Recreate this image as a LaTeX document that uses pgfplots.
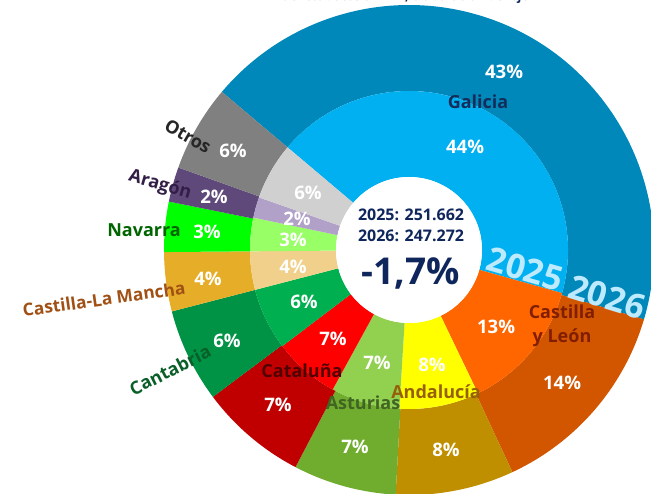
\documentclass[border=0pt]{standalone}
\usepackage{pgfplots}
\pgfplotsset{compat=1.18}
\usepackage{pgfplotstable}
\usepackage{fontspec}
\setmainfont{Open Sans}

% inner ring = 2025, outer ring = 2026
\definecolor{in0}{RGB}{0,176,240}
\definecolor{in1}{RGB}{255,102,0}
\definecolor{in2}{RGB}{255,255,0}
\definecolor{in3}{RGB}{146,208,80}
\definecolor{in4}{RGB}{255,0,0}
\definecolor{in5}{RGB}{0,176,80}
\definecolor{in6}{RGB}{240,208,138}
\definecolor{in7}{RGB}{153,255,102}
\definecolor{in8}{RGB}{177,160,199}
\definecolor{in9}{RGB}{208,208,208}
\definecolor{out0}{RGB}{0,136,186}
\definecolor{out1}{RGB}{210,85,0}
\definecolor{out2}{RGB}{191,143,0}
\definecolor{out3}{RGB}{112,173,47}
\definecolor{out4}{RGB}{192,0,0}
\definecolor{out5}{RGB}{0,146,69}
\definecolor{out6}{RGB}{230,174,40}
\definecolor{out7}{RGB}{0,255,0}
\definecolor{out8}{RGB}{95,73,122}
\definecolor{out9}{RGB}{128,128,128}
\definecolor{navy}{RGB}{15,38,92}
\definecolor{lblue}{RGB}{190,234,255}

\pgfplotstableread{
region    v25  v26
Galicia   43.2 43.4
CyL       13.5 13.5
Andalucia  8.1  7.8
Asturias   7.0  6.8
Cataluna   6.7  7.1
Cantabria  6.3  6.2
CLM        3.9  3.9
Navarra    3.4  3.3
Aragon     2.1  2.3
Otros      5.8  5.7
}\shares

\def\startang{139.8}
\newcommand\ringangles[2]{%
  \def\cum{0}%
  \pgfplotsforeachungrouped \i in {0,...,9}{%
    \pgfplotstablegetelem{\i}{#1}\of\shares
    \pgfmathsetmacro\a{\startang-3.6*\cum}%
    \pgfmathsetmacro\cum{\cum+\pgfplotsretval}%
    \pgfmathsetmacro\b{\startang-3.6*\cum}%
    \expandafter\xdef\csname #2s\i\endcsname{\a}%
    \expandafter\xdef\csname #2e\i\endcsname{\b}%
  }%
}

\begin{document}
\ringangles{v25}{in}%
\ringangles{v26}{out}%
\begin{tikzpicture}
\begin{axis}[name=ax,x=0.5pt,y=0.5pt,scale only axis,disabledatascaling,hide axis,
  xmin=-409,xmax=242,ymin=-243,ymax=250,clip=true]
  \pgfplotsinvokeforeach{0,...,9}{
    \fill[out#1,shift={(axis cs:0,0)}] (\csname outs#1\endcsname:159)
      arc[start angle=\csname outs#1\endcsname,end angle=\csname oute#1\endcsname,radius=159]
      -- (\csname oute#1\endcsname:245)
      arc[start angle=\csname oute#1\endcsname,end angle=\csname outs#1\endcsname,radius=245] -- cycle;
    \fill[in#1,shift={(axis cs:0,0)}] (\csname ins#1\endcsname:73)
      arc[start angle=\csname ins#1\endcsname,end angle=\csname ine#1\endcsname,radius=73]
      -- (\csname ine#1\endcsname:159)
      arc[start angle=\csname ine#1\endcsname,end angle=\csname ins#1\endcsname,radius=159] -- cycle;
  }
  \fill[white] (axis cs:0,0) circle[radius=73];

  \begin{scope}[font=\bfseries\fontsize{9.3}{9.3}\selectfont,text=white]
    \node at (axis cs:95,178) {43\%};
    \node at (axis cs:153,-133) {14\%};
    \node at (axis cs:37,-200) {8\%};
    \node at (axis cs:-54,-197) {7\%};
    \node at (axis cs:-131,-155) {7\%};
    \node at (axis cs:-182,-91) {6\%};
    \node at (axis cs:-201,-29) {4\%};
    \node at (axis cs:-202,18) {3\%};
    \node at (axis cs:-195,53) {2\%};
    \node at (axis cs:-176,99) {6\%};
    \node at (axis cs:56,103) {44\%};
    \node at (axis cs:87,-77) {13\%};
    \node at (axis cs:23,-115) {8\%};
    \node at (axis cs:-32,-113) {7\%};
    \node at (axis cs:-76,-89) {7\%};
    \node at (axis cs:-105,-52) {6\%};
    \node at (axis cs:-116,-17) {4\%};
    \node at (axis cs:-116,10) {3\%};
    \node at (axis cs:-112,31) {2\%};
    \node at (axis cs:-101,57) {6\%};
  \end{scope}

  \begin{scope}[font=\bfseries\fontsize{9}{12}\selectfont]
    \node[text={rgb,255:red,20;green,45;blue,90}] at (axis cs:69,148) {Galicia};
    \node[text={rgb,255:red,130;green,30;blue,0},align=center] at (axis cs:153,-76) {Castilla\\y León};
    \node[text={rgb,255:red,150;green,95;blue,10}] at (axis cs:27,-142) {Andalucía};
    \node[text={rgb,255:red,65;green,100;blue,35}] at (axis cs:-46,-153) {Asturias};
    \node[text={rgb,255:red,80;green,0;blue,0}] at (axis cs:-107,-121) {Cataluña};
    \node[text={rgb,255:red,10;green,95;blue,40},rotate=27] at (axis cs:-239,-120) {Cantabria};
    \node[text={rgb,255:red,160;green,80;blue,20},rotate=8,font=\bfseries\fontsize{8.7}{12}\selectfont] at (axis cs:-305,-49) {Castilla-La Mancha};
    \node[text={rgb,255:red,0;green,100;blue,0}] at (axis cs:-265,20) {Navarra};
    \node[text={rgb,255:red,50;green,30;blue,70},rotate=-16] at (axis cs:-249,65) {Aragón};
    \node[text={rgb,255:red,38;green,38;blue,38},rotate=-30] at (axis cs:-221,114) {Otros};
  \end{scope}

  \node[text=navy,font=\bfseries\fontsize{8}{8}\selectfont] at (axis cs:2,35) {2025: 251.662};
  \node[text=navy,font=\bfseries\fontsize{8}{8}\selectfont] at (axis cs:2,14) {2026: 247.272};
  \node[text=navy,font=\bfseries\fontsize{18.5}{18.5}\selectfont] at (axis cs:2,-23) {-1,7\%};
  \node[text=lblue,font=\bfseries\fontsize{17}{17}\selectfont,rotate=-16] at (axis cs:116,-19) {2025};
  \node[text=lblue,font=\bfseries\fontsize{17}{17}\selectfont,rotate=-17] at (axis cs:198,-47) {2026};

  \begin{scope}
    \clip (rel axis cs:0,0) rectangle (rel axis cs:1,1);
    \node[text=navy,font=\bfseries\fontsize{6.2}{6.2}\selectfont,anchor=base,inner sep=0pt] at (axis cs:-7,249) {Fuente: datos SIVAIN, elaboración del eje};
  \end{scope}
\end{axis}
\pgfresetboundingbox
\useasboundingbox (ax.south west) rectangle (ax.north east);
\end{tikzpicture}
\end{document}
